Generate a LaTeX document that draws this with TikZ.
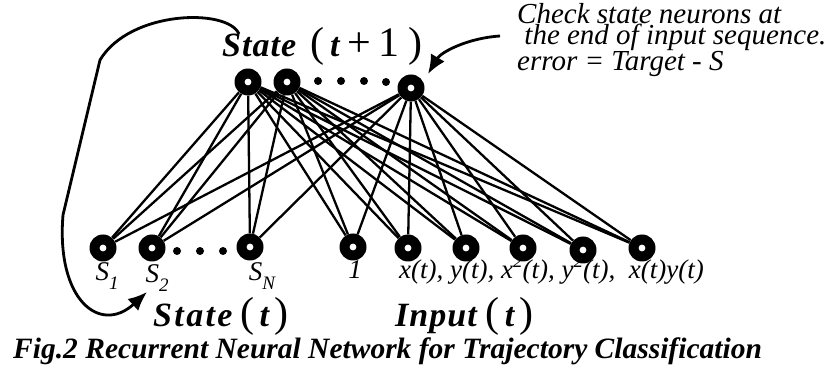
\documentclass[tikz,border=0pt]{standalone}
\usepackage{fontspec}
\setmainfont{Liberation Serif}
\usetikzlibrary{arrows.meta}
\newcommand{\lsub}[1]{\raisebox{-0.33em}{\fontsize{19}{19}\selectfont #1}}
\newcommand{\lsup}[1]{\raisebox{0.42em}{\fontsize{19}{19}\selectfont #1}}
\newcommand{\bp}[1]{{\fontsize{42}{42}\selectfont #1}}
\newcommand{\hw}[2]{{\bfseries\itshape\addfontfeature{LetterSpace=#1}#2}}
\begin{document}
\begin{tikzpicture}[x=1pt,y=-1pt,
  neuron/.style={circle,fill=black,minimum size=27pt,inner sep=0pt,
     path picture={\fill[white] (path picture bounding box.center) circle (3.4pt);}},
  dotn/.style={circle,fill=black,minimum size=8pt,inner sep=0pt},
  conn/.style={line width=2.3pt},
  bigarrow/.style={line width=2.8pt,-{Latex[length=19pt,width=16pt]}},
  lbl/.style={font=\fontsize{27}{28}\selectfont\itshape,inner sep=0pt,anchor=base},
  head/.style={font=\fontsize{34}{36}\selectfont,inner sep=0pt,anchor=base west},
  note/.style={font=\fontsize{29}{21}\selectfont\itshape,inner sep=0pt,anchor=north west,align=left},
  captext/.style={font=\fontsize{29.5}{30}\selectfont\bfseries\itshape,inner sep=0pt,anchor=base west}
]
\useasboundingbox (0,0) rectangle (831,371);
% top layer
\node[neuron] (t1) at (248,82) {};
\node[neuron] (t2) at (287,82) {};
\node[neuron] (t3) at (411,88) {};
\node[dotn] (d1) at (318,81) {};
\node[dotn] (d2) at (341,81) {};
\node[dotn] (d3) at (364,81) {};
\node[dotn] (d4) at (386,82) {};
% bottom layer
\node[neuron] (b1) at (103,248) {};
\node[neuron] (b2) at (152,248) {};
\node[neuron] (b3) at (250,247) {};
\node[neuron] (b4) at (353,247) {};
\node[neuron] (b5) at (408,248) {};
\node[neuron] (b6) at (466,248) {};
\node[neuron] (b7) at (523,248) {};
\node[neuron] (b8) at (583,250) {};
\node[neuron] (b9) at (642,248) {};
\node[dotn] (e1) at (177,251) {};
\node[dotn] (e2) at (200,251) {};
\node[dotn] (e3) at (223,251) {};
% connections
\foreach \t in {t1,t2,t3}
  \foreach \b in {b1,b2,b3,b4,b5,b6,b7,b8,b9}
    \draw[conn] (\t) -- (\b);
% labels
\node[lbl] (l1) at (107,281) {S\lsub{1}};
\node[lbl] (l2) at (157,283) {S\lsub{2}};
\node[lbl] (l3) at (262,281) {S\lsub{\itshape N}};
\node[lbl] (l4) at (355,279) {1};
\node[lbl,anchor=base west] (l5) at (399,279) {x(t), y(t), x\lsup{2}(t), y\lsup{2}(t),\ \ x(t)y(t)};
% headings
\node[head] (hs1) at (222,57) {\hw{3}{State}\hspace{14pt}\bp{(}\hspace{6pt}\hw{0}{t}\hspace{8pt}\bp{+}\hspace{7pt}\bp{1}\hspace{9pt}\bp{)}};
\node[head] (hs0) at (153,327) {\hw{7}{State}\hspace{8pt}\bp{(}\hspace{5pt}\hw{0}{t}\hspace{5pt}\bp{)}};
\node[head] (hin) at (395,327) {\hw{3}{Input}\hspace{9pt}\bp{(}\hspace{5pt}\hw{0}{t}\hspace{5pt}\bp{)}};
\node[note] (nt) at (517,3) {Check state neurons at\\ \ the end of input sequence.\\error = Target - S};
\node[captext] (cp) at (13,359) {Fig.2 Recurrent Neural Network for Trajectory Classification};
% arrows
\coordinate (a1s) at (239,34);
\coordinate (a1e) at (147,292);
\draw[bigarrow] (a1s) .. controls (228,8) and (130,10) .. (100,60) -- (63,215) .. controls (56,300) and (100,335) .. (a1e);
\coordinate (a2s) at (500,36);
\coordinate (a2e) at (428,74);
\draw[bigarrow] (a2s) .. controls (468,38) and (441,52) .. (a2e);
\end{tikzpicture}
\end{document}
